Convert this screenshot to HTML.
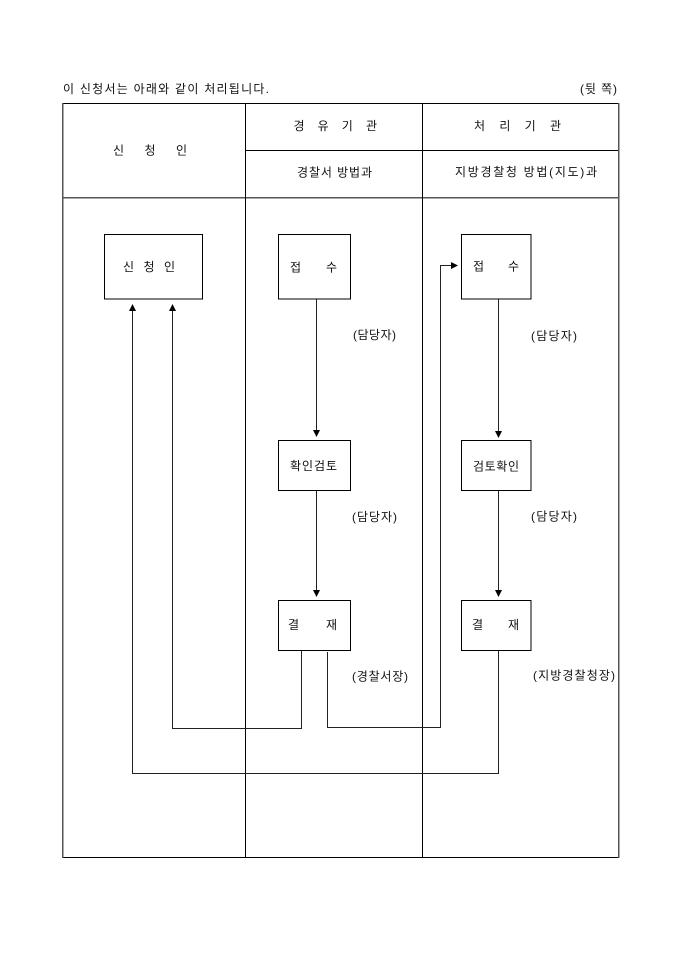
<!DOCTYPE html>
<html>
<head>
<meta charset="utf-8">
<style>
html,body{margin:0;padding:0;background:#fff;}
svg{display:block;}
text{font-family:"Liberation Sans","Noto Sans CJK KR",sans-serif;font-size:12px;fill:#111;dominant-baseline:central;}
</style>
</head>
<body>
<svg width="680" height="962" viewBox="0 0 680 962" xmlns="http://www.w3.org/2000/svg">
  <!-- heading -->
  <text x="63" y="89" textLength="206" lengthAdjust="spacing">이 신청서는 아래와 같이 처리됩니다.</text>
  <text x="580" y="89" textLength="37" lengthAdjust="spacing">(뒷 쪽)</text>

  <!-- table -->
  <g stroke="#000" stroke-width="1" fill="none" shape-rendering="crispEdges">
    <line x1="62" y1="103.5" x2="618" y2="103.5"/>
    <line x1="245" y1="150.5" x2="618" y2="150.5"/>
    <line x1="62" y1="197.5" x2="618" y2="197.5" stroke="#555" stroke-width="1.5"/>
    <line x1="62" y1="857.5" x2="619" y2="857.5"/>
    <line x1="62.5" y1="103" x2="62.5" y2="858" stroke="#555" stroke-width="1.5"/>
    <line x1="245.5" y1="103" x2="245.5" y2="858"/>
    <line x1="422.5" y1="103" x2="422.5" y2="858"/>
    <line x1="618.5" y1="103" x2="618.5" y2="858" stroke="#555" stroke-width="1.5"/>
  </g>

  <!-- header texts -->
  <text x="113" y="150.5" textLength="74" lengthAdjust="spacing">신 청 인</text>
  <text x="293.5" y="126" textLength="83.5" lengthAdjust="spacing">경 유 기 관</text>
  <text x="474" y="126" textLength="87" lengthAdjust="spacing">처 리 기 관</text>
  <text x="297" y="172.5" textLength="75" lengthAdjust="spacing">경찰서 방법과</text>
  <text x="455" y="172" textLength="142" lengthAdjust="spacing">지방경찰청 방법(지도)과</text>

  <!-- boxes -->
  <g stroke="#000" stroke-width="1" fill="#fff" shape-rendering="crispEdges">
    <rect x="104.5" y="234.5" width="98" height="64.5"/>
    <rect x="278.5" y="234.5" width="72" height="64.5"/>
    <rect x="278.5" y="440.5" width="72" height="50"/>
    <rect x="278.5" y="600.5" width="72" height="50"/>
    <rect x="461.5" y="234.5" width="69.5" height="64.5"/>
    <rect x="461.5" y="440.5" width="69.5" height="50"/>
    <rect x="461.5" y="600.5" width="69.5" height="50"/>
  </g>

  <!-- box texts -->
  <text x="123" y="267" textLength="52" lengthAdjust="spacing">신 청 인</text>
  <text x="290" y="267.5" textLength="47" lengthAdjust="spacing">접 수</text>
  <text x="473" y="266.5" textLength="46" lengthAdjust="spacing">접 수</text>
  <text x="290" y="466" textLength="47" lengthAdjust="spacing">확인검토</text>
  <text x="473" y="466.5" textLength="46" lengthAdjust="spacing">검토확인</text>
  <text x="288" y="625" textLength="49" lengthAdjust="spacing">결 재</text>
  <text x="472" y="625" textLength="47" lengthAdjust="spacing">결 재</text>

  <!-- side labels -->
  <text x="353" y="335" textLength="43" lengthAdjust="spacing">(담당자)</text>
  <text x="531" y="336" textLength="46" lengthAdjust="spacing">(담당자)</text>
  <text x="352" y="517" textLength="45" lengthAdjust="spacing">(담당자)</text>
  <text x="531" y="516.5" textLength="46" lengthAdjust="spacing">(담당자)</text>
  <text x="352" y="676.5" textLength="56" lengthAdjust="spacing">(경찰서장)</text>
  <text x="533" y="675.5" textLength="82" lengthAdjust="spacing">(지방경찰청장)</text>

  <!-- connectors -->
  <g stroke="#222" stroke-width="1" fill="none" shape-rendering="crispEdges">
    <!-- left column vertical flow -->
    <line x1="316.5" y1="299" x2="316.5" y2="432"/>
    <line x1="316.5" y1="491" x2="316.5" y2="592"/>
    <!-- right column vertical flow -->
    <line x1="498.5" y1="299" x2="498.5" y2="433"/>
    <line x1="498.5" y1="491" x2="498.5" y2="592"/>
    <!-- 결재(left) -> 신청인 -->
    <polyline points="301.5,651 301.5,728.5 172.5,728.5 172.5,310"/>
    <!-- 결재(left) -> 접수(right) -->
    <polyline points="327.5,652 327.5,727.5 440.5,727.5 440.5,265.5 453,265.5"/>
    <!-- 결재(right) -> 신청인 -->
    <polyline points="498.5,651 498.5,773.5 132.5,773.5 132.5,310"/>
  </g>

  <!-- arrowheads -->
  <g fill="#000" stroke="none">
    <polygon points="313,430 320,430 316.5,437"/>
    <polygon points="313,590 320,590 316.5,597"/>
    <polygon points="495,431 502,431 498.5,438"/>
    <polygon points="495,590 502,590 498.5,597"/>
    <polygon points="129,311 136,311 132.5,304"/>
    <polygon points="169,311 176,311 172.5,304"/>
    <polygon points="451,262 451,269 458,265.5"/>
  </g>
</svg>
</body>
</html>
